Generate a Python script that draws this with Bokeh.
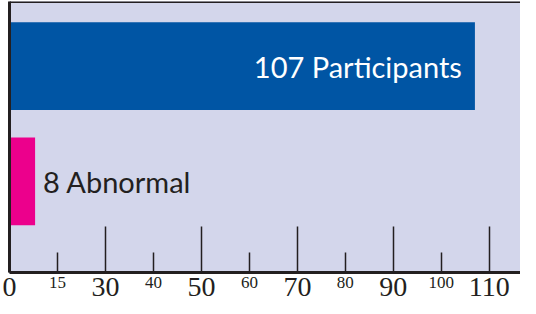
import numpy as np
from bokeh.plotting import figure
from bokeh.models import Range1d, FixedTicker, Span, LinearAxis
from bokeh.core.properties import value
from bokeh.embed import file_html
from bokeh.resources import INLINE

# ---- data ----
categories = ["Abnormal", "Participants"]
counts = [8, 107]
bar_colors = ["#EC008C", "#0055A4"]
text_colors = ["#231F20", "#FFFFFF"]
tick_values = [0, 15, 30, 40, 50, 60, 70, 80, 90, 100, 110]
major_tick_values = [0, 30, 50, 70, 90, 110]
minor_tick_values = [15, 40, 60, 80, 100]

# the printed axis places its labels at equal spacing -> piecewise mapping
tick_index = np.arange(len(tick_values), dtype=float)


def to_axis(v):
    return np.interp(v, tick_values, tick_index)


DARK = "#231F20"
p = figure(width=520, height=298, output_backend="svg", toolbar_location=None,
           x_range=Range1d(0, 10.65), y_range=Range1d(-0.79, 1.56),
           x_axis_location=None,
           min_border_left=9, min_border_right=0, min_border_top=1, min_border_bottom=0)
p.background_fill_color = "#D3D6EB"
p.border_fill_color = "#FFFFFF"
p.outline_line_color = None
p.grid.visible = False

yax = p.yaxis[0]
yax.ticker = FixedTicker(ticks=[])
yax.axis_line_color = DARK
yax.axis_line_width = 3
yax.major_tick_line_color = None
yax.minor_tick_line_color = None
yax.major_label_standoff = 0

ypos = list(range(len(categories)))
p.hbar(y=ypos, left=0, right=list(to_axis(counts)), height=0.76, color=bar_colors, line_color=None)

# labels: outside the short bar, inside the long bar
for i, (c, n) in enumerate(zip(counts, categories)):
    inside = c > 50
    p.text(x=[to_axis(c)], y=[ypos[i]], text=[f"{c} {n}"],
           text_color=text_colors[i], text_font=value("Lato"), text_font_size="29px",
           text_align="right" if inside else "left", text_baseline="middle",
           x_offset=-13 if inside else 8)

major_pos = [float(v) for v in to_axis(major_tick_values)]
minor_pos = [float(v) for v in to_axis(minor_tick_values)]

# axis nearest the frame: line, short labelled ticks (small labels) and long unlabelled ticks
ax_small = LinearAxis(ticker=FixedTicker(ticks=minor_pos, minor_ticks=major_pos))
ax_small.major_label_overrides = {pos: str(v) for pos, v in zip(minor_pos, minor_tick_values)}
ax_small.axis_line_color = DARK
ax_small.axis_line_width = 3
ax_small.major_tick_in = 20
ax_small.major_tick_out = 0
ax_small.minor_tick_in = 46
ax_small.minor_tick_out = 0
ax_small.major_tick_line_color = DARK
ax_small.minor_tick_line_color = DARK
ax_small.major_tick_line_width = 1.5
ax_small.minor_tick_line_width = 1.5
ax_small.major_label_text_font = "Liberation Serif"
ax_small.major_label_text_font_size = "17px"
ax_small.major_label_text_color = DARK
ax_small.major_label_standoff = 4
p.add_layout(ax_small, "below")

# second axis: large labels, pulled up to the same row
ax_big = LinearAxis(ticker=FixedTicker(ticks=major_pos))
ax_big.major_label_overrides = {pos: str(v) for pos, v in zip(major_pos, major_tick_values)}
ax_big.axis_line_color = None
ax_big.major_tick_line_color = None
ax_big.minor_tick_line_color = None
ax_big.major_tick_in = 0
ax_big.major_tick_out = 0
ax_big.major_label_text_font = "Liberation Serif"
ax_big.major_label_text_font_size = "28px"
ax_big.major_label_text_color = DARK
ax_big.major_label_standoff = -13
p.add_layout(ax_big, "below")

p.add_layout(Span(location=p.y_range.end, dimension="width", line_color=DARK, line_width=3))

open("out.html", "w").write(file_html(p, INLINE))
